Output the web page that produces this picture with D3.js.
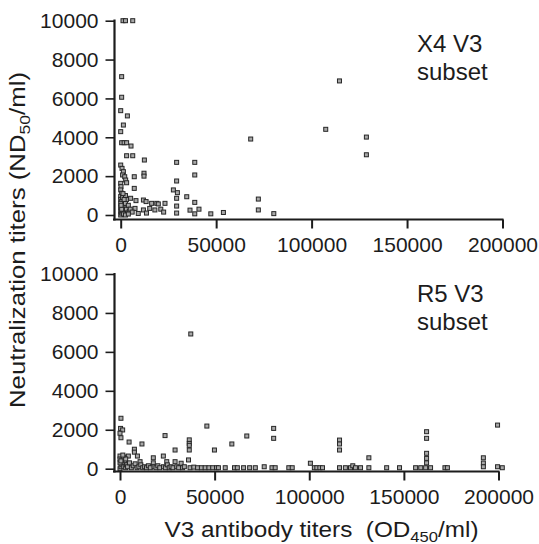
<!DOCTYPE html>
<html><head><meta charset="utf-8">
<script src="https://cdn.jsdelivr.net/npm/d3@7"></script>
<style>
html,body{margin:0;padding:0;background:#fff;}
svg{display:block;font-family:"Liberation Sans",Arial,sans-serif;}
</style></head>
<body><svg id="c" width="539" height="544"></svg>
<script>
// ---- data ----
const xTicks = [0, 50000, 100000, 150000, 200000];
const yTicks = [0, 2000, 4000, 6000, 8000, 10000];

const x4X = [1200,2500,6300, 500,500,0,3500,1400,0, 500,1800,3100,5400,3100,6300,
  12400,29300,38800,68100, 114600,107400,128700,128700,
  0,700,1400,1000,2100,2600,3100, 7100,12200,12200,38800,29300,
  0,150,0,500,0, 7100,5200,8000,11900,13300,16200,18900,23200,
  7500,9200,11900,13500,15200,17900,19700,21000,22500,
  27600,29700,34600,29300,38800,29300,29300,36300,41000,38800,47200,53800,
  72100,72100,80200,
  0,500,1000,1500,2000,0,0,0,0,500,1000,1500,2000,2500,3000,3500,1000,2500,3000,4000,4500,1500,2500,500,200,1200,1800,5000,6000,4000];
const x4Y = [10000,10000,10000, 7120,6060,5370,5100,4630,4290, 3720,3720,3720,3550,3050,3050,
  2830,2710,2710,3910, 6900,4410,4010,3100,
  2570,2400,2230,2060,1970,1800,1660, 1970,2150,2000,2060,1750,
  1630,1460,1290,1120,960, 1370,860,740,770,690,600,600,600,
  340,80,260,100,340,260,570,300,150,
  1290,1150,940,860,650,460,100,250,300,60,60,130,
  820,260,70,
  800,700,600,500,400,600,400,200,0,100,200,300,100,600,300,100,900,1000,800,500,200,50,0,300,500,1100,800,300,150,50];

const r5X = [37400,
  500,300,1400,0,500,4800,11600,23800,45900,
  36600,36600,36600,36600,29100,49900,7600,7600,
  0,4400,9200,22900,17600,10600,24700,29100,17600,32300,36200,
  59100,67000,81200,81200,
  55600,60500,62000,65300,68500,71500,76200,80300,82000,89200,91000,100600,102700,
  37000,39000,41000,43000,45000,47000,49000,51000,52000,
  104000,105600,107000,
  116000,116000,116000,116000,
  119100,121800,123000,124400,127100,
  131500,131500,140900,147700,
  156200,158900,161500,164100,
  162000,162000,162000,162000,162000,
  171700,173000,
  192000,192000,192000,199500,199500,202000,
  0,500,1000,1500,2000,2500,3000,3500,4000,5000,6000,7000,8000,9000,10000,11000,12000,13000,14000,15000,16000,18000,19000,20000,21000,23000,24000,25000,26000,27000,28000,30000,31000,33000,34000,0,0,1000,2000,3000,1500,500];
const r5Y = [6920,
  2590,2070,1990,1820,1590,1370,1270,1700,2190,
  1480,1300,1200,960,960,960,1000,850,
  650,650,650,650,560,360,360,360,300,280,450,
  1270,1680,2070,1560,
  50,50,50,50,50,50,100,50,50,50,50,280,50,
  50,80,50,50,50,50,50,50,50,
  50,50,50,
  1470,1270,960,50,
  50,50,150,50,50,
  560,50,50,50,
  50,50,50,50,
  1900,1560,790,530,300,
  50,50,
  560,290,100,2240,100,50,
  0,100,200,300,100,400,50,200,100,300,50,150,250,50,100,200,50,100,50,150,50,100,50,150,50,100,50,200,50,100,50,100,50,50,100,300,500,450,600,500,700,400];

const panelLabels = [["X4 V3","subset"],["R5 V3","subset"]];

// ---- layout ----
const svg = d3.select("#c");
const ink = "#1c1c1c";
const panels = [
  {xs:x4X, ys:x4Y, lab:panelLabels[0], xr:[120.7,502.5], yr:[215,20.7], axY:219.5, yTop:19.5, labY:52},
  {xs:r5X, ys:r5Y, lab:panelLabels[1], xr:[120,498.5], yr:[468.7,274], axY:471.5, yTop:273, labY:302}
];
const axX = 114.5;

panels.forEach(p => {
  const x = d3.scaleLinear().domain([0,200000]).range(p.xr);
  const y = d3.scaleLinear().domain([0,10000]).range(p.yr);
  const g = svg.append("g");

  // points
  g.append("g").selectAll("rect").data(p.xs.map((v,i)=>[v,p.ys[i]])).join("rect")
    .attr("x", d=>x(d[0])-2).attr("y", d=>y(d[1])-2)
    .attr("width",4).attr("height",4)
    .attr("fill","#a8a8a8").attr("stroke","#262626").attr("stroke-width",1);

  // y axis
  const ya = g.append("g").attr("transform",`translate(${axX},0)`)
    .call(d3.axisLeft(y).tickValues(yTicks).tickSize(9).tickPadding(7).tickFormat(d3.format("d")));
  ya.select(".domain").remove();
  ya.selectAll("line").attr("stroke",ink).attr("stroke-width",1.6);
  ya.selectAll("text").attr("font-size",21).attr("fill",ink).attr("font-family","Liberation Sans, Arial");
  g.append("line").attr("x1",axX).attr("x2",axX).attr("y1",p.yTop).attr("y2",p.axY+1)
    .attr("stroke",ink).attr("stroke-width",2.2);

  // x axis
  const xa = g.append("g").attr("transform",`translate(0,${p.axY})`)
    .call(d3.axisBottom(x).tickValues(xTicks).tickSize(9).tickPadding(9).tickFormat(d3.format("d")));
  xa.select(".domain").remove();
  xa.selectAll("line").attr("stroke",ink).attr("stroke-width",2);
  xa.selectAll("text").attr("font-size",21).attr("fill",ink).attr("font-family","Liberation Sans, Arial");
  g.append("line").attr("x1",axX-1.5).attr("x2",p.xr[1]+1).attr("y1",p.axY).attr("y2",p.axY)
    .attr("stroke",ink).attr("stroke-width",2.2);

  // panel label
  const t = g.append("text").attr("font-size",24).attr("fill",ink);
  t.append("tspan").attr("x",417).attr("y",p.labY).text(p.lab[0]);
  t.append("tspan").attr("x",417).attr("y",p.labY+28).text(p.lab[1]);
});

// axis titles
const yt = svg.append("text").attr("transform","translate(25,240) rotate(-90)")
  .attr("text-anchor","middle").attr("font-size",22).attr("fill",ink)
  .attr("textLength",336).attr("lengthAdjust","spacingAndGlyphs");
yt.append("tspan").text("Neutralization titers (ND");
yt.append("tspan").attr("font-size",15).attr("dy",5).text("50");
yt.append("tspan").attr("dy",-5).text("/ml)");

const xt = svg.append("text").attr("x",321.5).attr("y",537)
  .attr("text-anchor","middle").attr("font-size",22).attr("fill",ink)
  .attr("textLength",314).attr("lengthAdjust","spacingAndGlyphs").attr("xml:space","preserve");
xt.append("tspan").text("V3 antibody titers  (OD");
xt.append("tspan").attr("font-size",15).attr("dy",5).text("450");
xt.append("tspan").attr("dy",-5).text("/ml)");
</script></body></html>
